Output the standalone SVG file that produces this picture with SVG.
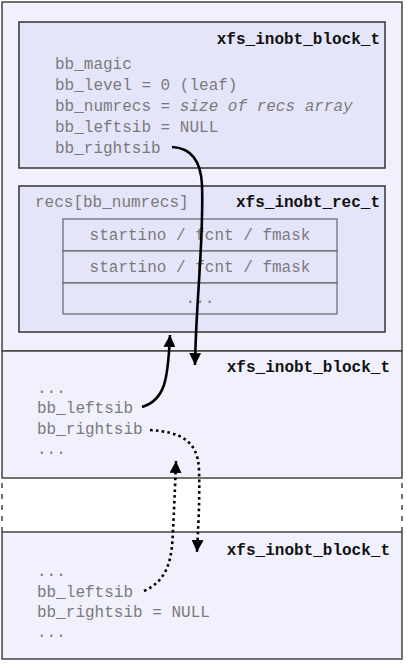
<svg xmlns="http://www.w3.org/2000/svg" width="407" height="667" viewBox="0 0 407 667">
<defs>
<style>
.blk{fill:#f1f1fd;stroke:#444;stroke-width:1.5}
.inner{fill:#e5e5f9;stroke:#333;stroke-width:1.5}
.row{fill:#e5e5f9;stroke:#666;stroke-width:1.2}
.t{font-family:"Liberation Mono","Courier New",monospace;font-size:16px;fill:#7a7a7a}
.it{font-style:italic}
.title{font-family:"Liberation Mono","Courier New",monospace;font-size:16px;font-weight:bold;fill:#111;text-anchor:end}
.c{text-anchor:middle}
.con{fill:none;stroke:#000;stroke-width:2.6}
.dot{stroke-dasharray:2.6 3.2}
.dash{stroke:#444;stroke-width:1.5;stroke-dasharray:5 6}
</style>
<marker id="ah" viewBox="0 0 10 10" refX="10" refY="5" markerWidth="4.6" markerHeight="4.6" orient="auto" markerUnits="strokeWidth">
<path d="M0,0 L10,5 L0,10 z" fill="#000"/>
</marker>
</defs>

<g id="block1">
<rect class="blk" x="2" y="2" width="400" height="349"/>
</g>
<g id="header1">
<rect class="inner" x="19" y="22" width="366" height="146"/>
<text class="title" x="380" y="44">xfs_inobt_block_t</text>
<text class="t" x="55" y="69">bb_magic</text>
<text class="t" x="55" y="90">bb_level = 0 (leaf)</text>
<text class="t" x="55" y="111">bb_numrecs = <tspan class="it">size of recs array</tspan></text>
<text class="t" x="55" y="132">bb_leftsib = NULL</text>
<text class="t" x="55" y="153">bb_rightsib</text>
</g>
<g id="recs">
<rect class="inner" x="19" y="186" width="366" height="146"/>
<text class="t" x="35" y="207">recs[bb_numrecs]</text>
<text class="title" x="380" y="207">xfs_inobt_rec_t</text>
<rect class="row" x="63" y="219" width="274" height="32"/>
<rect class="row" x="63" y="251" width="274" height="32"/>
<rect class="row" x="63" y="283" width="274" height="31"/>
<text class="t c" x="200" y="240">startino / fcnt / fmask</text>
<text class="t c" x="200" y="272">startino / fcnt / fmask</text>
<text class="t c" x="200" y="303">...</text>
</g>

<g id="block2">
<rect class="blk" x="2" y="351" width="400" height="127"/>
<text class="title" x="390" y="372">xfs_inobt_block_t</text>
<text class="t" x="37" y="393">...</text>
<text class="t" x="37" y="413">bb_leftsib</text>
<text class="t" x="37" y="434">bb_rightsib</text>
<text class="t" x="37" y="454">...</text>
</g>

<g id="gap">
<line class="dash" x1="2" y1="483" x2="2" y2="532"/>
<line class="dash" x1="402" y1="483" x2="402" y2="532"/>
</g>

<g id="block3">
<rect class="blk" x="2" y="532" width="400" height="127"/>
<text class="title" x="390" y="555">xfs_inobt_block_t</text>
<text class="t" x="37" y="576">...</text>
<text class="t" x="37" y="597">bb_leftsib</text>
<text class="t" x="37" y="617">bb_rightsib = NULL</text>
<text class="t" x="37" y="637">...</text>
</g>

<g id="connectors">
<path class="con" d="M172,147 C192,148 201,162 202,185 C204,240 196,300 195,365" marker-end="url(#ah)"/>
<path class="con" d="M142,407 C165,400 168,380 170,335" marker-end="url(#ah)"/>
<path class="con dot" d="M150,430 C180,432 198,440 199,470 C200,500 198,530 197,552" marker-end="url(#ah)"/>
<path class="con dot" d="M144,591 C168,580 172,560 173,530 C174,510 175,490 176,461" marker-end="url(#ah)"/>
</g>
</svg>
